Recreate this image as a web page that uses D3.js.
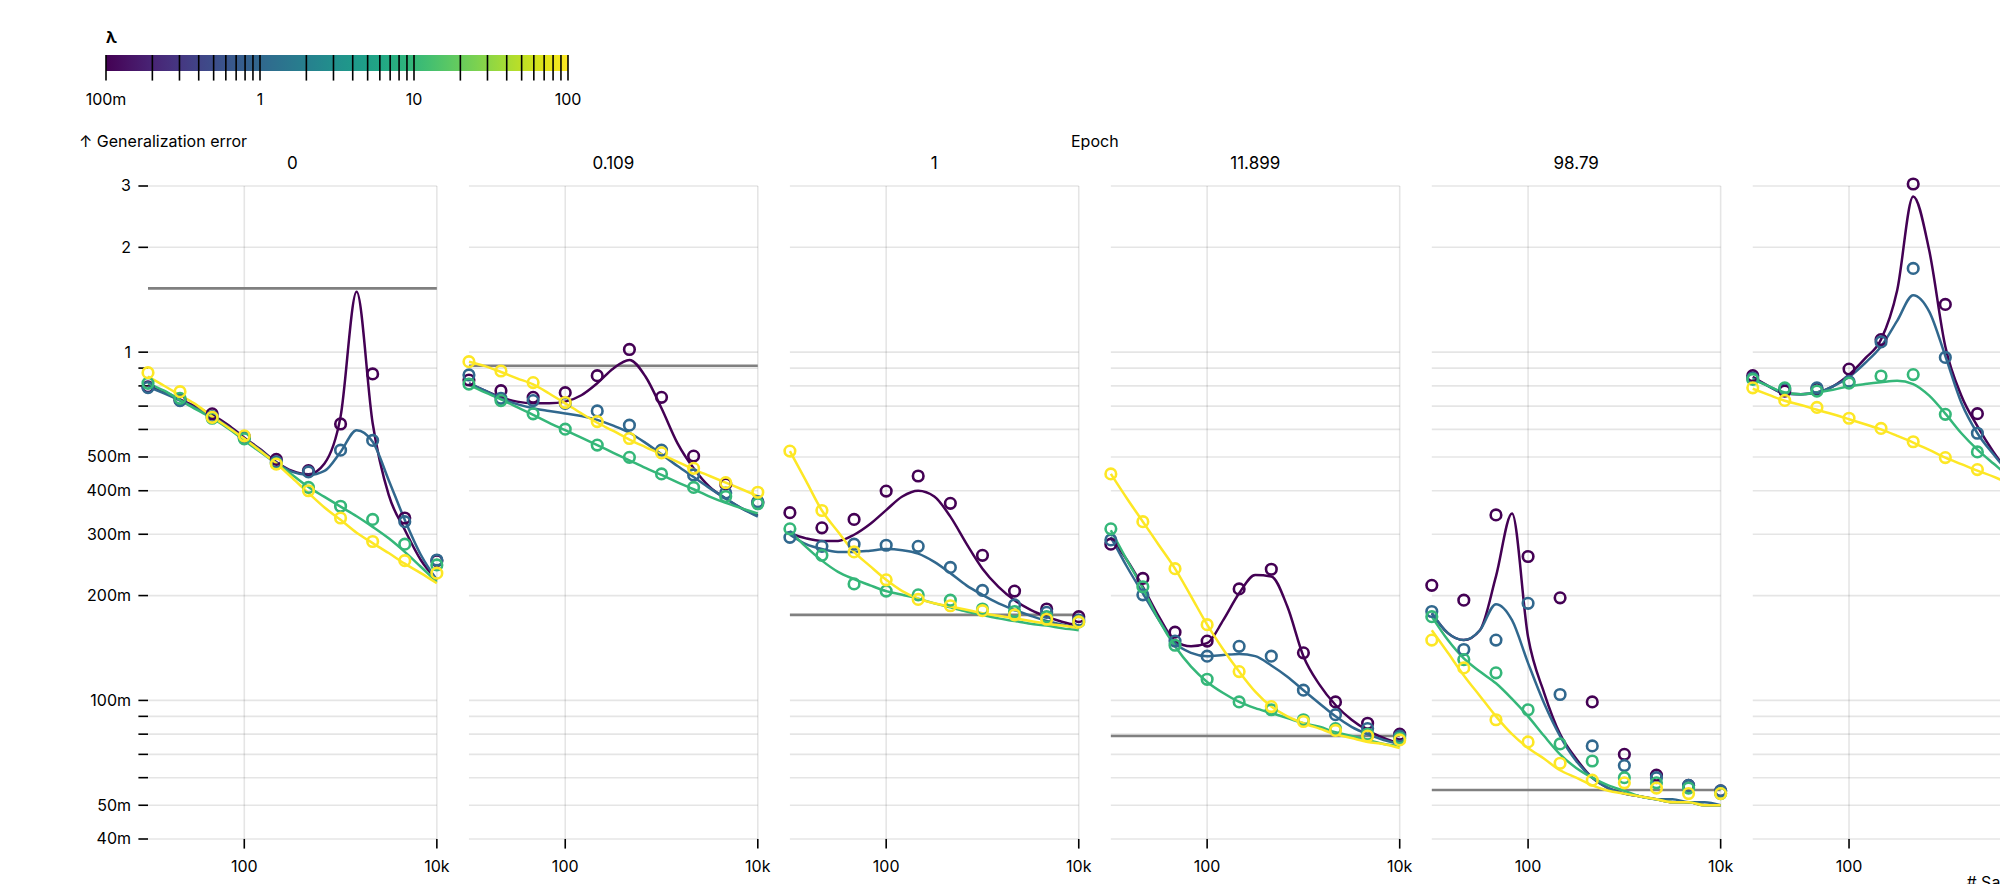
<!DOCTYPE html>
<html>
<head>
<meta charset="utf-8">
<script src="https://cdn.jsdelivr.net/npm/d3@7"></script>
<style>
  html, body { margin: 0; padding: 0; overflow: hidden; background: #fff; }
  svg { display: block; font-family: Inter, "Noto Sans", sans-serif; font-size: 16px; }
</style>
</head>
<body>
<svg id="chart"></svg>
<script>
// facets (epoch) and colour groups (lambda)
const epochs = ["0", "0.109", "1", "11.899", "98.79", ""];
const lambdas = [0.1, 1, 10, 100];

// x values of the measured points and of the smooth prediction curves
const nSamples = [10, 21.5, 46.4, 100, 215, 464, 1000, 2154, 4642, 10000];
const nCurve = [10, 14.7, 21.5, 31.6, 46.4, 68.1, 100, 147, 215, 316, 464, 681, 1000, 1468, 2154, 3162, 4642, 6813, 10000];

// grey reference level per facet
const baseline = [1.525, 0.914, 0.176, 0.079, 0.0553, null];

// measured generalization error, one row per lambda
const dots0 = [
  [0.795, 0.729, 0.665, 0.572, 0.492, 0.457, 0.622, 0.866, 0.334, 0.252],
  [0.791, 0.726, 0.653, 0.568, 0.484, 0.453, 0.523, 0.558, 0.326, 0.253],
  [0.814, 0.737, 0.646, 0.564, 0.479, 0.409, 0.361, 0.331, 0.281, 0.245],
  [0.873, 0.770, 0.650, 0.575, 0.477, 0.400, 0.334, 0.286, 0.252, 0.232]
];
const dots1 = [
  [0.832, 0.775, 0.742, 0.765, 0.856, 1.018, 0.742, 0.503, 0.418, 0.370],
  [0.860, 0.737, 0.726, 0.713, 0.678, 0.617, 0.523, 0.444, 0.394, 0.372],
  [0.810, 0.726, 0.665, 0.601, 0.541, 0.499, 0.447, 0.409, 0.385, 0.367],
  [0.939, 0.883, 0.818, 0.717, 0.632, 0.565, 0.514, 0.464, 0.422, 0.396]
];
const dots2 = [
  [0.346, 0.313, 0.331, 0.399, 0.441, 0.368, 0.261, 0.206, 0.183, 0.174],
  [0.294, 0.277, 0.281, 0.279, 0.277, 0.241, 0.207, 0.188, 0.179, 0.170],
  [0.311, 0.261, 0.216, 0.206, 0.201, 0.194, 0.183, 0.180, 0.174, 0.168],
  [0.520, 0.351, 0.267, 0.222, 0.195, 0.187, 0.181, 0.176, 0.171, 0.168]
];
const dots3 = [
  [0.281, 0.224, 0.157, 0.148, 0.209, 0.238, 0.137, 0.099, 0.086, 0.080],
  [0.289, 0.201, 0.148, 0.134, 0.143, 0.134, 0.107, 0.091, 0.083, 0.079],
  [0.311, 0.212, 0.144, 0.115, 0.099, 0.094, 0.088, 0.083, 0.080, 0.078],
  [0.447, 0.326, 0.239, 0.165, 0.121, 0.096, 0.087, 0.082, 0.079, 0.077]
];
const dots4 = [
  [0.214, 0.194, 0.341, 0.259, 0.197, 0.099, 0.070, 0.061, 0.057, 0.055],
  [0.180, 0.140, 0.149, 0.190, 0.104, 0.074, 0.065, 0.060, 0.057, 0.055],
  [0.174, 0.131, 0.120, 0.094, 0.075, 0.067, 0.060, 0.058, 0.056, 0.054],
  [0.149, 0.124, 0.088, 0.076, 0.066, 0.059, 0.058, 0.056, 0.054, 0.054]
];
const dots5 = [
  [0.856, 0.773, 0.785, 0.894, 1.087, 3.04, 1.371, 0.666, 0.509, 0.42],
  [0.843, 0.785, 0.790, 0.823, 1.070, 1.740, 0.966, 0.585, 0.464, 0.40],
  [0.835, 0.790, 0.773, 0.815, 0.854, 0.862, 0.663, 0.517, 0.450, 0.40],
  [0.790, 0.727, 0.694, 0.646, 0.604, 0.553, 0.498, 0.460, 0.434, 0.40]
];

// predicted curves, one row per lambda, sampled at nCurve
const curve0 = [
  [0.805, 0.770, 0.732, 0.697, 0.661, 0.618, 0.568, 0.526, 0.484, 0.456, 0.446, 0.479, 0.653, 1.49, 0.625, 0.389, 0.309, 0.253, 0.222],
  [0.795, 0.761, 0.726, 0.690, 0.653, 0.611, 0.564, 0.523, 0.481, 0.453, 0.444, 0.456, 0.517, 0.597, 0.553, 0.429, 0.330, 0.262, 0.222],
  [0.814, 0.775, 0.729, 0.685, 0.646, 0.604, 0.558, 0.517, 0.479, 0.444, 0.410, 0.384, 0.360, 0.338, 0.315, 0.292, 0.267, 0.242, 0.219],
  [0.851, 0.801, 0.752, 0.707, 0.653, 0.608, 0.564, 0.520, 0.479, 0.435, 0.394, 0.358, 0.330, 0.303, 0.283, 0.265, 0.247, 0.232, 0.217]
];
const curve1 = [
  [0.814, 0.775, 0.742, 0.721, 0.713, 0.713, 0.721, 0.752, 0.814, 0.898, 0.950, 0.851, 0.690, 0.547, 0.464, 0.410, 0.380, 0.356, 0.340],
  [0.814, 0.775, 0.737, 0.709, 0.690, 0.678, 0.667, 0.656, 0.639, 0.615, 0.587, 0.549, 0.509, 0.471, 0.438, 0.407, 0.380, 0.356, 0.337],
  [0.805, 0.766, 0.732, 0.695, 0.661, 0.627, 0.597, 0.568, 0.541, 0.514, 0.489, 0.465, 0.444, 0.423, 0.404, 0.385, 0.369, 0.356, 0.344],
  [0.939, 0.912, 0.877, 0.841, 0.808, 0.761, 0.713, 0.667, 0.627, 0.594, 0.561, 0.534, 0.509, 0.484, 0.461, 0.441, 0.422, 0.404, 0.386]
];
const curve2 = [
  [0.302, 0.292, 0.287, 0.287, 0.299, 0.321, 0.352, 0.385, 0.400, 0.385, 0.337, 0.282, 0.239, 0.212, 0.194, 0.182, 0.174, 0.168, 0.164],
  [0.299, 0.281, 0.272, 0.267, 0.267, 0.269, 0.272, 0.270, 0.264, 0.250, 0.232, 0.214, 0.201, 0.190, 0.182, 0.175, 0.169, 0.165, 0.161],
  [0.307, 0.276, 0.252, 0.234, 0.223, 0.214, 0.206, 0.201, 0.196, 0.190, 0.185, 0.180, 0.176, 0.172, 0.169, 0.166, 0.164, 0.161, 0.159],
  [0.520, 0.427, 0.351, 0.305, 0.267, 0.243, 0.222, 0.206, 0.196, 0.190, 0.186, 0.182, 0.178, 0.175, 0.172, 0.169, 0.166, 0.164, 0.161]
];
const curve3 = [
  [0.292, 0.253, 0.212, 0.174, 0.148, 0.143, 0.146, 0.170, 0.203, 0.229, 0.227, 0.186, 0.134, 0.111, 0.097, 0.088, 0.082, 0.078, 0.075],
  [0.295, 0.242, 0.203, 0.170, 0.146, 0.137, 0.134, 0.135, 0.136, 0.134, 0.126, 0.117, 0.107, 0.098, 0.090, 0.084, 0.080, 0.077, 0.075],
  [0.308, 0.253, 0.210, 0.170, 0.143, 0.125, 0.113, 0.105, 0.099, 0.095, 0.092, 0.089, 0.086, 0.084, 0.081, 0.079, 0.077, 0.075, 0.074],
  [0.447, 0.380, 0.326, 0.279, 0.239, 0.199, 0.165, 0.140, 0.121, 0.106, 0.096, 0.090, 0.086, 0.083, 0.080, 0.078, 0.076, 0.075, 0.073]
];
const curve4 = [
  [0.178, 0.156, 0.149, 0.159, 0.227, 0.344, 0.152, 0.105, 0.080, 0.068, 0.060, 0.056, 0.054, 0.053, 0.052, 0.051, 0.051, 0.050, 0.050],
  [0.178, 0.156, 0.149, 0.159, 0.189, 0.170, 0.128, 0.098, 0.079, 0.067, 0.060, 0.056, 0.054, 0.053, 0.052, 0.052, 0.051, 0.051, 0.050],
  [0.174, 0.149, 0.132, 0.121, 0.112, 0.101, 0.090, 0.079, 0.070, 0.064, 0.060, 0.057, 0.055, 0.053, 0.052, 0.051, 0.051, 0.050, 0.050],
  [0.159, 0.137, 0.118, 0.103, 0.090, 0.080, 0.073, 0.068, 0.063, 0.060, 0.057, 0.055, 0.054, 0.053, 0.052, 0.051, 0.051, 0.050, 0.050]
];
const curve5 = [
  [0.849, 0.798, 0.761, 0.757, 0.766, 0.798, 0.862, 0.960, 1.087, 1.504, 2.80, 1.957, 1.038, 0.750, 0.613, 0.517, 0.450, 0.416, 0.391],
  [0.841, 0.798, 0.761, 0.757, 0.766, 0.798, 0.849, 0.931, 1.038, 1.230, 1.458, 1.308, 0.975, 0.716, 0.585, 0.509, 0.450, 0.416, 0.391],
  [0.835, 0.798, 0.766, 0.757, 0.766, 0.780, 0.798, 0.810, 0.820, 0.828, 0.810, 0.750, 0.666, 0.585, 0.525, 0.479, 0.439, 0.416, 0.391],
  [0.785, 0.754, 0.725, 0.705, 0.683, 0.663, 0.642, 0.621, 0.600, 0.575, 0.550, 0.524, 0.498, 0.477, 0.457, 0.439, 0.420, 0.407, 0.391]
];

const dotsByEpoch = [dots0, dots1, dots2, dots3, dots4, dots5];
const curvesByEpoch = [curve0, curve1, curve2, curve3, curve4, curve5];

//sizes
const W = 2080, H = 900;
const svg = d3.select("#chart").attr("width", W).attr("height", H);

// scales
const fx = d3.scaleBand()
    .domain(d3.range(epochs.length))
    .range([148, 2041.6])
    .paddingInner(0.1);
const x = d3.scaleLog().domain([10, 10000]).range([0, fx.bandwidth()]);
const y = d3.scaleLog().domain([0.04, 3]).range([839, 186]);
const color = d3.scaleSequentialLog(d3.interpolateViridis).domain([0.1, 100]);

const yTicks = y.ticks();
const yFormat = y.tickFormat(10, "~s");
const xTicks = [100, 10000];
const xFormat = d3.format("~s");

// ---- colour legend ----
const legendX = d3.scaleLog().domain([0.1, 100]).range([106, 568]);
const defs = svg.append("defs");
const grad = defs.append("linearGradient").attr("id", "ramp");
d3.range(0, 1.0001, 0.05).forEach(t => {
    grad.append("stop").attr("offset", t).attr("stop-color", d3.interpolateViridis(t));
});
const legend = svg.append("g");
legend.append("rect")
    .attr("x", 106).attr("y", 55)
    .attr("width", 462).attr("height", 16)
    .attr("fill", "url(#ramp)");
legend.selectAll(".lt")
    .data(legendX.ticks())
    .join("line")
    .attr("x1", d => legendX(d)).attr("x2", d => legendX(d))
    .attr("y1", 55).attr("y2", 80.6)
    .attr("stroke", "#000").attr("stroke-width", 1.6);
const legendFormat = legendX.tickFormat(4, "~s");
legend.selectAll(".ll")
    .data(legendX.ticks().filter(d => legendFormat(d) !== ""))
    .join("text")
    .attr("x", d => legendX(d)).attr("y", 105)
    .attr("text-anchor", "middle")
    .text(d => legendFormat(d));
legend.append("text")
    .attr("x", 106).attr("y", 43)
    .style("font-weight", "bold")
    .text("λ");

// ---- axis titles ----
svg.append("text").attr("x", 79).attr("y", 147).text("↑ Generalization error");
svg.append("text")
    .attr("x", (fx.range()[0] + fx.range()[1]) / 2).attr("y", 147)
    .attr("text-anchor", "middle").text("Epoch");
svg.append("text")
    .attr("x", fx.range()[1] + 24).attr("y", 888)
    .attr("text-anchor", "end").text("# Samples →");

// y axis (left of first facet)
const yAxis = svg.append("g");
yAxis.selectAll("line")
    .data(yTicks).join("line")
    .attr("x1", 138.4).attr("x2", 148)
    .attr("y1", d => y(d)).attr("y2", d => y(d))
    .attr("stroke", "#000").attr("stroke-width", 1.6);
yAxis.selectAll("text")
    .data(yTicks.filter(d => yFormat(d) !== "")).join("text")
    .attr("x", 131).attr("y", d => y(d))
    .attr("dy", "0.34em")
    .attr("text-anchor", "end")
    .text(d => yFormat(d));

// ---- facets ----
const line = d3.line()
    .x((d, i) => x(nCurve[i]))
    .y(d => y(d))
    .curve(d3.curveMonotoneX);

epochs.forEach((ep, fi) => {
    const g = svg.append("g").attr("transform", `translate(${fx(fi)},0)`);

    // facet label
    g.append("text")
        .attr("x", fx.bandwidth() / 2).attr("y", 169)
        .attr("text-anchor", "middle")
        .style("font-size", "17px")
        .text(ep);

    // grid
    g.selectAll(".gy").data(yTicks).join("line")
        .attr("x1", 0).attr("x2", fx.bandwidth())
        .attr("y1", d => y(d)).attr("y2", d => y(d))
        .attr("stroke", "#000").attr("stroke-opacity", 0.1).attr("stroke-width", 1.6);
    g.selectAll(".gx").data(xTicks).join("line")
        .attr("x1", d => x(d)).attr("x2", d => x(d))
        .attr("y1", 186).attr("y2", 839)
        .attr("stroke", "#000").attr("stroke-opacity", 0.1).attr("stroke-width", 1.6);

    // x axis
    g.selectAll(".tx").data(xTicks).join("line")
        .attr("x1", d => x(d)).attr("x2", d => x(d))
        .attr("y1", 839).attr("y2", 848.6)
        .attr("stroke", "#000").attr("stroke-width", 1.6);
    g.selectAll(".lx").data(xTicks).join("text")
        .attr("x", d => x(d)).attr("y", 872)
        .attr("text-anchor", "middle")
        .text(d => xFormat(d));

    // grey reference rule
    if (baseline[fi] != null) {
        g.append("line")
            .attr("x1", 0).attr("x2", fx.bandwidth())
            .attr("y1", y(baseline[fi])).attr("y2", y(baseline[fi]))
            .attr("stroke", "gray").attr("stroke-width", 2.6);
    }

    // prediction curves
    g.selectAll(".curve").data(curvesByEpoch[fi]).join("path")
        .attr("d", line)
        .attr("fill", "none")
        .attr("stroke", (d, i) => color(lambdas[i]))
        .attr("stroke-width", 2.5);

    // measured points
    dotsByEpoch[fi].forEach((row, li) => {
        g.append("g").selectAll("circle").data(row).join("circle")
            .attr("cx", (d, i) => x(nSamples[i]))
            .attr("cy", d => y(d))
            .attr("r", 5.3)
            .attr("fill", "none")
            .attr("stroke", color(lambdas[li]))
            .attr("stroke-width", 2.6);
    });
});
</script>
</body>
</html>
